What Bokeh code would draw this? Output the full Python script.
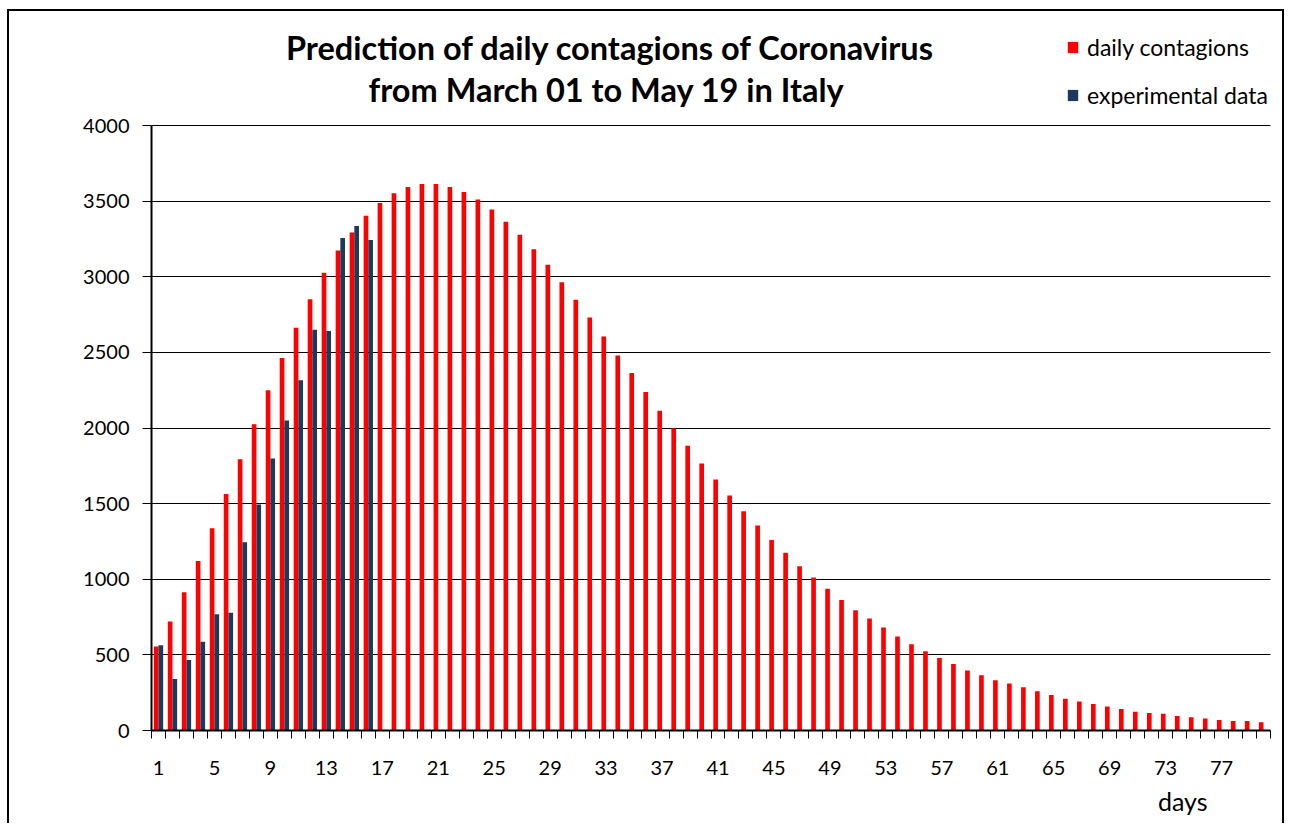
from bokeh.plotting import figure
from bokeh.models import (Range1d, FixedTicker, Label, Legend, LegendItem,
                          ColumnDataSource, Title)
from bokeh.transform import dodge
from bokeh.embed import file_html
from bokeh.resources import INLINE

# ---------------- data ----------------
days = list(range(1, 81))
daily_contagions = [
    555, 720, 914, 1120, 1338, 1563, 1793, 2024, 2249, 2463,
    2662, 2851, 3026, 3173, 3293, 3403, 3487, 3552, 3594, 3613,
    3613, 3594, 3560, 3510, 3445, 3364, 3277, 3181, 3079, 2963,
    2848, 2730, 2605, 2479, 2363, 2238, 2114, 1998, 1883, 1766,
    1659, 1553, 1449, 1355, 1260, 1176, 1086, 1011, 938, 863,
    795, 740, 681, 621, 570, 524, 480, 439, 397, 365,
    332, 310, 286, 260, 234, 210, 192, 175, 159, 142,
    124, 116, 111, 96, 87, 79, 70, 63, 63, 55,
]
exp_days = list(range(1, 17))
experimental_data = [563, 340, 466, 587, 769, 778, 1245, 1495, 1799, 2050,
                     2315, 2649, 2641, 3257, 3335, 3243]
tick_days = list(range(1, 80, 4))
y_ticks = list(range(0, 4001, 500))

title_lines = ["Prediction of daily contagions of Coronavirus",
               "from March  01 to May 19 in Italy"]
FONT = "Lato"

red_src = ColumnDataSource(dict(day=days, value=daily_contagions))
blue_src = ColumnDataSource(dict(day=exp_days, value=experimental_data))

# frame is extended above and to the right so that title / legend fit inside it
X0, X1 = 0.5, 80.5
Y0, Y1 = 0, 4000
px_per_day = (1270 - 151) / 80.0
x_end = X1 + 16 / px_per_day
y_end = Y1 * (730 - 11) / (730 - 125)

p = figure(width=1277, height=814, output_backend="svg", toolbar_location=None,
           x_range=Range1d(X0, x_end), y_range=Range1d(Y0, y_end),
           min_border_left=142, min_border_right=0,
           min_border_top=0, min_border_bottom=95)
p.title = None
p.styles = {"border": "2px solid black", "border-bottom": "none",
            "margin-left": "7px", "margin-top": "9px"}
p.outline_line_color = None
p.background_fill_color = "white"
p.border_fill_color = "white"

bw = 1.0 / 3.0
r_red = p.vbar(x=dodge("day", -bw / 2, range=p.x_range), top="value", width=bw,
               source=red_src, fill_color="#FF0000", line_color=None)
r_blue = p.vbar(x=dodge("day", bw / 2, range=p.x_range), top="value", width=bw,
                source=blue_src, fill_color="#1B3A5E", line_color=None)

# grid
p.xgrid.grid_line_color = None
g = p.ygrid[0]
if "cross_bounds" in g.properties():
    g.ticker = FixedTicker(ticks=y_ticks)
    g.grid_line_color = "black"
    g.grid_line_width = 1
    g.cross_bounds = (X0, X1)
else:
    g.grid_line_color = None
    p.segment(x0=[X0] * len(y_ticks), x1=[X1] * len(y_ticks), y0=y_ticks, y1=y_ticks,
              line_color="black", line_width=1, level="underlay")

# y axis
p.yaxis.bounds = (Y0, Y1)
p.yaxis.ticker = FixedTicker(ticks=y_ticks)
p.yaxis.axis_line_color = "black"
p.yaxis.axis_line_width = 2
p.yaxis.major_tick_line_color = "black"
p.yaxis.major_tick_out = 9
p.yaxis.major_tick_in = 0
p.yaxis.minor_tick_line_color = None
p.yaxis.major_label_standoff = 13
p.yaxis.major_label_text_font = FONT
p.yaxis.major_label_text_font_size = "20px"
p.yaxis.major_label_text_color = "black"

# x axis
p.xaxis.bounds = (X0, X1)
p.xaxis.ticker = FixedTicker(ticks=tick_days,
                             minor_ticks=[d - 0.5 for d in days] + [X1])
p.xaxis.axis_line_color = "black"
p.xaxis.axis_line_width = 2
p.xaxis.major_tick_line_color = None
p.xaxis.major_tick_out = 0
p.xaxis.major_tick_in = 0
p.xaxis.minor_tick_line_color = "black"
p.xaxis.minor_tick_line_width = 1
p.xaxis.minor_tick_out = 8
p.xaxis.minor_tick_in = 0
p.xaxis.major_label_standoff = 22
p.xaxis.major_label_text_font = FONT
p.xaxis.major_label_text_font_size = "20px"
p.xaxis.major_label_text_color = "black"

# "days" label under the axis, right part
p.add_layout(Title(text="days", align="right", offset=79, standoff=12,
                   vertical_align="bottom",
                   text_font=FONT, text_font_size="25px", text_font_style="normal",
                   text_color="black"), "below")

# title (two centred lines)
for txt, yy in zip(title_lines, [683, 641]):
    p.add_layout(Label(x=459, y=yy, x_units="screen", y_units="screen", text=txt,
                       text_align="center", text_baseline="middle",
                       text_font=FONT, text_font_style="bold",
                       text_font_size="32.5px", text_color="black"))

legend = Legend(items=[LegendItem(label="daily contagions", renderers=[r_red]),
                       LegendItem(label="experimental data", renderers=[r_blue])],
                location=(915, 621), orientation="vertical",
                glyph_width=13, glyph_height=14, label_height=28,
                label_standoff=8, spacing=20, padding=0, margin=0,
                border_line_color=None, background_fill_alpha=0,
                label_text_font=FONT, label_text_font_size="23px",
                label_text_color="black")
p.add_layout(legend)

open("out.html", "w").write(file_html(p, INLINE))
